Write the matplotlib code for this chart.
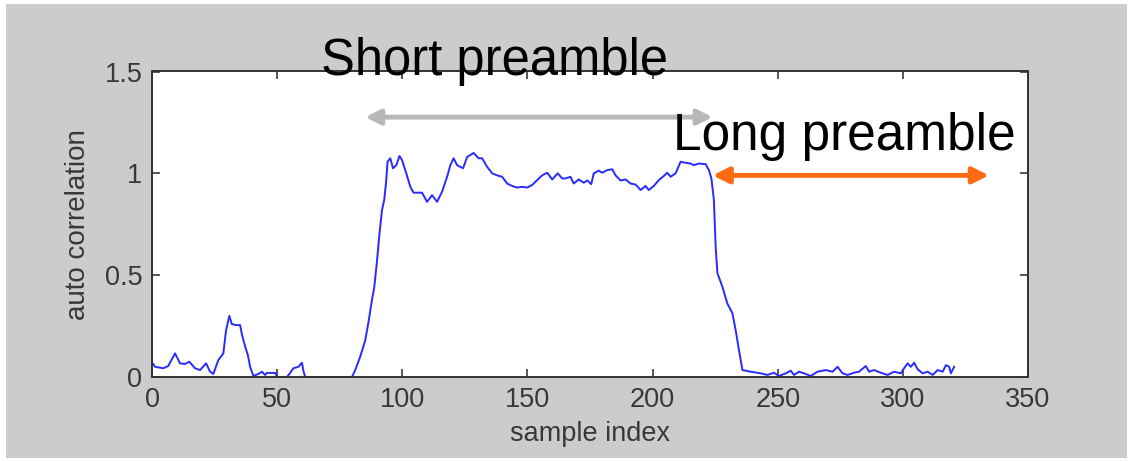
import matplotlib
matplotlib.use("Agg")
import matplotlib.pyplot as plt
from matplotlib.patches import Rectangle

plt.rcParams['font.family'] = ['Liberation Sans', 'DejaVu Sans']

# Traced auto-correlation curve (sample index, value)
sample_index = [
    0.3, 1.2, 4.5, 6.5, 9.2, 11.2, 13.2, 14.9, 17.2, 19.2, 21.6, 23.2, 24.5, 26.5, 28.5,
    29.6, 30.9, 31.9, 33.6, 35.2, 35.9, 37.2, 38.3, 39.2, 40.5, 42.5, 43.9, 45.2, 45.9,
    49.2, 50.1, 53.9, 55.2, 56.5, 58.5, 59.9, 60.5, 61.2, 76.5, 79.9, 81.2, 83.2, 85.2,
    86.5, 87.9, 88.8, 89.9, 90.9, 91.9, 92.8, 93.6, 94.1, 95.2, 96.3, 97.6, 98.9, 99.9,
    101.6, 103.2, 104.5, 107.9, 109.9, 111.9, 113.9, 115.9, 117.9, 119.2, 120.5, 121.9,
    124.3, 125.9, 128.5, 130.5, 131.9, 133.9, 135.9, 137.9, 139.9, 141.9, 143.9, 145.9,
    147.9, 149.9, 151.9, 153.9, 155.9, 157.9, 159.9, 162.1, 163.9, 165.2, 167.2, 168.5,
    170.5, 172.5, 173.9, 175.5, 176.5, 178.5, 179.9, 181.9, 183.9, 185.2, 187.2, 189.2,
    191.2, 193.2, 195.2, 197.2, 198.5, 200.5, 202.5, 204.5, 205.9, 207.2, 209.2, 211.2,
    213.2, 215.2, 216.5, 218.5, 221.2, 222.5, 223.5, 224.5, 225.2, 225.9, 227.9, 229.9,
    231.9, 233.2, 234.5, 235.9, 239.2, 243.2, 245.9, 248.5, 250.5, 253.2, 255.2, 256.5,
    258.5, 260.5, 263.2, 265.9, 269.2, 271.9, 273.9, 275.9, 277.9, 280.5, 282.5, 285.2,
    286.5, 288.5, 291.2, 293.9, 296.5, 299.2, 300.5, 301.9, 303.2, 304.5, 305.9, 307.9,
    309.9, 311.9, 313.9, 315.9, 317.2, 318.5, 319.2, 320.5,
]
auto_corr = [
    0.067, 0.05, 0.043, 0.054, 0.116, 0.067, 0.064, 0.075, 0.043, 0.034, 0.067, 0.026, 0.015,
    0.083, 0.116, 0.23, 0.30, 0.26, 0.255, 0.255, 0.21, 0.15, 0.108, 0.05, 0.005, 0.015,
    0.026, 0.01, 0.02, 0.02, 0.0, 0.0, 0.02, 0.043, 0.05, 0.07, 0.03, 0.0, 0.0, 0.0, 0.034,
    0.10, 0.18, 0.27, 0.38, 0.44, 0.57, 0.705, 0.82, 0.87, 0.967, 1.057, 1.074, 1.025, 1.04,
    1.085, 1.065, 1.0, 0.934, 0.905, 0.905, 0.86, 0.893, 0.86, 0.91, 0.983, 1.04, 1.074,
    1.04, 1.025, 1.08, 1.10, 1.074, 1.074, 1.032, 1.0, 0.99, 0.983, 0.95, 0.938, 0.93,
    0.934, 0.93, 0.943, 0.967, 0.99, 1.003, 0.97, 1.0, 0.975, 0.975, 0.983, 0.95, 0.97,
    0.954, 0.965, 0.947, 1.0, 1.013, 1.003, 1.016, 1.02, 0.99, 0.965, 0.97, 0.95, 0.945,
    0.918, 0.938, 0.918, 0.938, 0.967, 0.987, 1.003, 0.983, 1.0, 1.057, 1.052, 1.048, 1.04,
    1.048, 1.045, 1.016, 0.975, 0.87, 0.64, 0.51, 0.443, 0.36, 0.313, 0.23, 0.133, 0.034,
    0.026, 0.018, 0.01, 0.021, 0.005, 0.018, 0.031, 0.01, 0.026, 0.018, 0.005, 0.026, 0.034,
    0.026, 0.05, 0.018, 0.01, 0.021, 0.026, 0.054, 0.026, 0.034, 0.021, 0.01, 0.026, 0.018,
    0.043, 0.067, 0.05, 0.07, 0.038, 0.018, 0.026, 0.01, 0.034, 0.026, 0.058, 0.05, 0.018,
    0.05,
]

x_ticks = [0, 50, 100, 150, 200, 250, 300, 350]
y_ticks = [0, 0.5, 1, 1.5]
y_tick_labels = ['0', '0.5', '1', '1.5']

short_span = (85.2, 224.0, 1.276)
long_span = (224.0, 334.4, 0.99)

fig = plt.figure(figsize=(11.31, 4.61), dpi=100, facecolor='white')
fig.patches.append(Rectangle((6 / 1131, 3 / 461), 1121 / 1131, 454 / 461,
                             transform=fig.transFigure, facecolor='#cccccc',
                             edgecolor='none', zorder=-10))
ax = fig.add_axes([152 / 1131, (461 - 377) / 461, 876 / 1131, (377 - 71.5) / 461])
ax.set_zorder(5)
ax.set_facecolor('white')
ax.plot(sample_index, auto_corr, color='#2a2aff', lw=1.4)
ax.set_xlim(0, 350)
ax.set_ylim(0, 1.5)
ax.set_xticks(x_ticks)
ax.set_yticks(y_ticks)
ax.set_yticklabels(y_tick_labels)
ax.tick_params(direction='in', length=6, width=1.2, top=True, right=True,
               labelsize=19.5, colors='#383838', pad=7)
for s in ax.spines.values():
    s.set_linewidth(1.4)
    s.set_color('#333333')
ax.set_xlabel('sample index', fontsize=19.5, color='#383838', labelpad=6)
ax.set_ylabel('auto correlation', fontsize=20, color='#383838', labelpad=10)

ax.annotate('', xy=(short_span[0], short_span[2]), xytext=(short_span[1], short_span[2]),
            arrowprops=dict(arrowstyle='<|-|>', color='#b8b8b8', lw=3.5,
                            mutation_scale=22, shrinkA=0, shrinkB=0),
            annotation_clip=False)
ax.annotate('', xy=(long_span[0], long_span[2]), xytext=(long_span[1], long_span[2]),
            arrowprops=dict(arrowstyle='<|-|>', color='#ff6a13', lw=3.5,
                            mutation_scale=24, shrinkA=0, shrinkB=0),
            annotation_clip=False)
ax.text(137, 1.483, 'Short preamble', fontsize=36.5, ha='center', va='baseline',
        color='black', clip_on=False)
ax.text(208, 1.114, 'Long preamble', fontsize=37, ha='left', va='baseline',
        color='black', clip_on=False)

fig.savefig('out.png', dpi=100, facecolor=fig.get_facecolor())
